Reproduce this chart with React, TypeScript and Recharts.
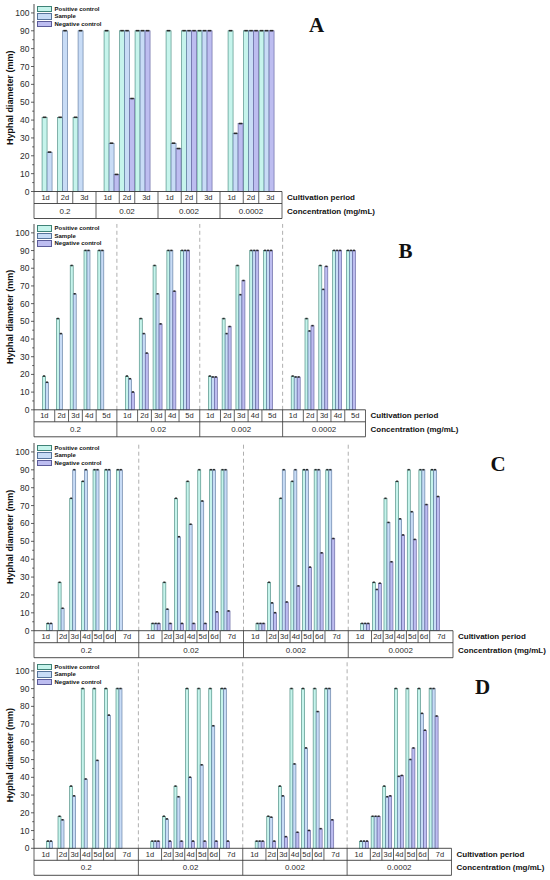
import React from "react";
import { Bar, BarChart, Legend, ReferenceLine, XAxis, YAxis } from "recharts";

const CONCENTRATIONS = ["0.2", "0.02", "0.002", "0.0002"];
const DAYS_3 = ["1d", "2d", "3d"];
const DAYS_5 = ["1d", "2d", "3d", "4d", "5d"];
const DAYS_7 = ["1d", "2d", "3d", "4d", "5d", "6d", "7d"];
const Y_TICKS = [0, 5, 10, 15, 20, 25, 30, 35, 40, 45, 50, 55, 60, 65, 70, 75, 80, 85, 90, 95, 100];

// values run concentration by concentration, day by day; null = no bar drawn
const A_POSITIVE = [41.5, 41.5, 41.5, 90, 90, 90, 90, 90, 90, 90, 90, 90];
const A_SAMPLE = [22, 90, 90, 27, 90, 90, 27, 90, 90, 32.5, 90, 90];
const A_NEGATIVE = [null, null, null, 9.5, 52, 90, 24, 90, 90, 38, 90, 90];

const B_POSITIVE = [19, 51.5, 81.5, 90, 90, 19, 51.5, 81.5, 90, 90, 19, 51.5, 81.5, 90, 90, 19, 51.5, 81.5, 90, 90];
const B_SAMPLE = [15.5, 43, 65.5, 90, 90, 17.5, 43, 65.5, 90, 90, 18.5, 43, 65, 90, 90, 18.5, 44.5, 68, 90, 90];
const B_NEGATIVE = [null, null, null, null, null, 10, 32, 48.5, 67, 90, 18.5, 47, 73, 90, 90, 18.5, 47.5, 81, 90, 90];

const C_POSITIVE = [4, 27, 74, 83.5, 90, 90, 90, 4, 27, 74, 83.5, 90, 90, 90, 4, 27, 74, 83.5, 90, 90, 90, 4, 27, 74, 83.5, 90, 90, 90];
const C_SAMPLE = [4, 12.5, 90, 90, 90, 90, 90, 4, 12, 52.5, 59.5, 72.5, 90, 90, 4, 15.5, 90, 90, 90, 90, 90, 4, 23, 60.5, 62.5, 66.5, 90, 90];
const C_NEGATIVE = [null, null, null, null, null, null, null, 4, 4, 4, 4, 4, 10.5, 11, 4, 10, 16, 25, 35.5, 43.5, 51.5, 4, 26.5, 38.5, 53.5, 51, 70.5, 75];

const D_POSITIVE = [4, 18, 35, 90, 90, 90, 90, 4, 18, 35, 90, 90, 90, 90, 4, 18, 35, 90, 90, 90, 90, 4, 18, 35, 90, 90, 90, 90];
const D_SAMPLE = [4, 16, 29.5, 39, 49.5, 75, 90, 4, 16.5, 29, 40, 47, 69, 90, 4, 17.5, 29.5, 47.5, 56.5, 77, 90, 4, 18, 29, 40.5, 50, 76, 90];
const D_NEGATIVE = [null, null, null, null, null, null, null, 4, 4, 4, 4, 4, 4, 4, 4, 4, 6.5, 9, 10, 11, 16, 4, 18, 29.5, 41, 56.5, 66.5, 74.5];

const SERIES = [
  { key: "positive", name: "Positive control", fill: "#c6f4ec", stroke: "#3f8277" },
  { key: "sample", name: "Sample", fill: "#c8dcf6", stroke: "#56739a" },
  { key: "negative", name: "Negative control", fill: "#bdbdf0", stroke: "#5b5b99" },
];

const FONT = "'Liberation Sans', Arial, sans-serif";
const INK = "#2b2b2b";
const PLOT_LEFT = 34;
const MARGIN_TOP = 4;
const MARGIN_BOTTOM = 3;
const ROW1 = 12;
const ROW2 = 15;
const AXIS = { stroke: "#3a3a3a", strokeWidth: 0.9 };

interface Row {
  key: string;
  kind: "day" | "spacer";
  group: number;
  day: number;
  label: string;
  positive: number | null;
  sample: number | null;
  negative: number | null;
}

interface PanelConfig {
  letter: string;
  days: string[];
  positive: (number | null)[];
  sample: (number | null)[];
  negative: (number | null)[];
  plotTop: number;
  plotBottom: number;
  plotRight: number;
  edge: number; // spacer width (in bands) at each side of a concentration group
  dashed: boolean;
  gap: string;
  letterX: number;
  letterBase: number;
}

const PANELS: PanelConfig[] = [
  { letter: "A", days: DAYS_3, positive: A_POSITIVE, sample: A_SAMPLE, negative: A_NEGATIVE, plotTop: 4, plotBottom: 191.5, plotRight: 282, edge: 0.5, dashed: false, gap: "2%", letterX: 316.5, letterBase: 33 },
  { letter: "B", days: DAYS_5, positive: B_POSITIVE, sample: B_SAMPLE, negative: B_NEGATIVE, plotTop: 223.5, plotBottom: 409.3, plotRight: 365.5, edge: 0.5, dashed: true, gap: "12%", letterX: 405.5, letterBase: 259 },
  { letter: "C", days: DAYS_7, positive: C_POSITIVE, sample: C_SAMPLE, negative: C_NEGATIVE, plotTop: 443, plotBottom: 630.7, plotRight: 453, edge: 1, dashed: true, gap: "7%", letterX: 498, letterBase: 471.5 },
  { letter: "D", days: DAYS_7, positive: D_POSITIVE, sample: D_SAMPLE, negative: D_NEGATIVE, plotTop: 662, plotBottom: 848.3, plotRight: 451.5, edge: 1, dashed: true, gap: "7%", letterX: 482.5, letterBase: 695 },
];

function spacer(key: string, group: number): Row {
  return { key, kind: "spacer", group, day: -1, label: "", positive: null, sample: null, negative: null };
}

function buildRows(cfg: PanelConfig): Row[] {
  const rows: Row[] = [];
  CONCENTRATIONS.forEach((conc, g) => {
    if (cfg.edge === 1) rows.push(spacer(`s${g}a`, g));
    else if (g > 0) rows.push(spacer(`s${g}`, g));
    cfg.days.forEach((d, j) => {
      const i = g * cfg.days.length + j;
      rows.push({
        key: `${conc}-${d}`,
        kind: "day",
        group: g,
        day: j,
        label: d,
        positive: cfg.positive[i],
        sample: cfg.sample[i],
        negative: cfg.negative[i],
      });
    });
    if (cfg.edge === 1) rows.push(spacer(`s${g}b`, g));
  });
  return rows;
}

function CappedBar(props: any) {
  const { x, y, width, height, fill, stroke } = props;
  if (!height || height <= 0 || !width) return <g />;
  const capW = width * 0.7;
  return (
    <g>
      <rect x={x} y={y} width={width} height={height} fill={fill} stroke={stroke} strokeWidth={0.6} />
      <rect x={x + (width - capW) / 2} y={y - 0.9} width={capW} height={1.6} fill={INK} />
    </g>
  );
}

function YTick(props: any) {
  const { x, y, payload } = props;
  const major = payload.value % 10 === 0;
  return (
    <g>
      <line x1={x - (major ? 3 : 1.8)} x2={x} y1={y} y2={y} stroke="#3a3a3a" strokeWidth={0.8} />
      {major && (
        <text x={x - 4.5} y={y} textAnchor="end" dominantBaseline="central" fontSize={8.5} fill={INK} fontFamily={FONT}>
          {payload.value}
        </text>
      )}
    </g>
  );
}

function LegendBox() {
  return (
    <div style={{ display: "flex", flexDirection: "column", gap: 1.2, fontFamily: FONT }}>
      {SERIES.map((s) => (
        <div key={s.key} style={{ display: "flex", alignItems: "center", height: 6.5 }}>
          <span
            style={{
              display: "inline-block",
              width: 15,
              height: 6.5,
              background: s.fill,
              border: `0.8px solid ${s.stroke}`,
              boxSizing: "border-box",
              marginRight: 3,
            }}
          />
          <span style={{ fontSize: 6, fontWeight: 700, lineHeight: "6.5px", whiteSpace: "nowrap", color: "#111" }}>{s.name}</span>
        </div>
      ))}
    </div>
  );
}

function sideLabel(text: string) {
  return (props: any) => {
    const vb = props.viewBox;
    if (!vb) return null;
    return (
      <text
        x={vb.x + vb.width + 5}
        y={vb.y + vb.height / 2}
        dominantBaseline="central"
        fontSize={8}
        fontWeight={700}
        fill="#111"
        fontFamily={FONT}
      >
        {text}
      </text>
    );
  };
}

function Panel({ cfg }: { cfg: PanelConfig }) {
  const rows = buildRows(cfg);
  const rowMap = new Map(rows.map((r) => [r.key, r]));
  const nDays = cfg.days.length;
  const mid = Math.floor(nDays / 2);
  const plotW = cfg.plotRight - PLOT_LEFT;
  const band = cfg.edge === 1 ? plotW / rows.length : plotW / (rows.length + 1);
  const pad = cfg.edge === 1 ? 0 : band / 2;
  const chartTop = cfg.plotTop - MARGIN_TOP;
  const height = cfg.plotBottom - cfg.plotTop + MARGIN_TOP + ROW1 + ROW2 + 1 + MARGIN_BOTTOM;

  const dayTick = (props: any) => {
    const { x, y, payload } = props;
    const row = rowMap.get(payload.value);
    if (!row || row.kind !== "day") return <g />;
    const h = payload.offset || band / 2;
    const first = row.day === 0;
    const last = row.day === nDays - 1;
    const cx = first ? x - cfg.edge * h : last ? x + cfg.edge * h : x;
    const line = { stroke: "#3a3a3a", strokeWidth: 0.8 };
    return (
      <g>
        {!last && <line x1={x + h} x2={x + h} y1={y} y2={y + ROW1} {...line} />}
        {first && row.group === 0 && (
          <line x1={x - h - cfg.edge * 2 * h} x2={x - h - cfg.edge * 2 * h} y1={y} y2={y + ROW1 + ROW2} {...line} />
        )}
        {last && <line x1={x + h + cfg.edge * 2 * h} x2={x + h + cfg.edge * 2 * h} y1={y} y2={y + ROW1 + ROW2} {...line} />}
        <text x={cx} y={y + ROW1 / 2} textAnchor="middle" dominantBaseline="central" fontSize={7.5} fill={INK} fontFamily={FONT}>
          {row.label}
        </text>
      </g>
    );
  };

  const concTick = (props: any) => {
    const { x, y, payload } = props;
    const row = rowMap.get(payload.value);
    if (!row || row.kind !== "day" || row.day !== mid) return <g />;
    return (
      <text x={x} y={y + ROW2 / 2} textAnchor="middle" dominantBaseline="central" fontSize={8} fill={INK} fontFamily={FONT}>
        {CONCENTRATIONS[row.group]}
      </text>
    );
  };

  const separators = cfg.dashed
    ? CONCENTRATIONS.slice(1).map((_, i) => {
        const g = i + 1;
        const key = cfg.edge === 1 ? `s${g - 1}b` : `s${g}`;
        return (
          <ReferenceLine
            key={key}
            xAxisId="row1"
            yAxisId="left"
            x={key}
            position={cfg.edge === 1 ? "end" : "middle"}
            stroke="#9a9a9a"
            strokeWidth={0.8}
            strokeDasharray="4 3"
          />
        );
      })
    : null;

  const common = {
    dataKey: "key",
    type: "category" as const,
    interval: 0,
    padding: { left: pad, right: pad },
    tickLine: false,
    tickSize: 0,
    tickMargin: 0,
    axisLine: AXIS,
  };

  return (
    <div style={{ position: "absolute", left: 0, top: chartTop, width: 550, height }}>
      <BarChart
        width={550}
        height={height}
        data={rows}
        margin={{ top: MARGIN_TOP, right: 550 - cfg.plotRight, bottom: MARGIN_BOTTOM, left: 0 }}
        barGap={0}
        barCategoryGap={cfg.gap}
      >
        <XAxis xAxisId="row1" {...common} height={ROW1} tick={dayTick} label={{ content: sideLabel("Cultivation period") }} />
        <XAxis xAxisId="row2" {...common} height={ROW2} tick={concTick} label={{ content: sideLabel("Concentration (mg/mL)") }} />
        <XAxis xAxisId="row3" {...common} height={1} tick={false} />
        <XAxis xAxisId="top" {...common} orientation="top" height={0} tick={false} />
        <YAxis
          yAxisId="left"
          domain={[0, 105]}
          ticks={Y_TICKS}
          interval={0}
          width={PLOT_LEFT}
          tickLine={false}
          tickSize={0}
          tickMargin={0}
          axisLine={AXIS}
          tick={YTick}
          label={{
            content: (props: any) => {
              const vb = props.viewBox;
              if (!vb) return null;
              const cx = vb.x + 10;
              const cy = vb.y + vb.height / 2;
              return (
                <text
                  x={cx}
                  y={cy}
                  transform={`rotate(-90 ${cx} ${cy})`}
                  textAnchor="middle"
                  dominantBaseline="central"
                  fontSize={9}
                  fontWeight={700}
                  fill="#111"
                  fontFamily={FONT}
                >
                  Hyphal diameter (mm)
                </text>
              );
            },
          }}
        />
        <YAxis yAxisId="right" orientation="right" width={0} tick={false} tickLine={false} axisLine={AXIS} />
        <Legend
          layout="horizontal"
          verticalAlign="middle"
          align="center"
          content={() => <LegendBox />}
          wrapperStyle={{ left: PLOT_LEFT + 2.5, top: MARGIN_TOP + 1.5, width: "auto", height: "auto" }}
        />
        {separators}
        {SERIES.map((s) => (
          <Bar
            key={s.key}
            dataKey={s.key}
            name={s.name}
            xAxisId="row1"
            yAxisId="left"
            fill={s.fill}
            stroke={s.stroke}
            shape={CappedBar}
            isAnimationActive={false}
          />
        ))}
      </BarChart>
    </div>
  );
}

export default function App() {
  return (
    <div style={{ position: "absolute", left: 0, top: 0, width: 550, height: 880, background: "#fff", fontFamily: FONT }}>
      {PANELS.map((cfg) => (
        <Panel key={cfg.letter} cfg={cfg} />
      ))}
      {PANELS.map((cfg) => (
        <div
          key={`letter-${cfg.letter}`}
          style={{
            position: "absolute",
            left: cfg.letterX - 20,
            top: cfg.letterBase - 17.6,
            width: 40,
            textAlign: "center",
            fontFamily: "'Liberation Serif', 'Times New Roman', serif",
            fontWeight: 700,
            fontSize: 21,
            lineHeight: 1,
            color: "#111",
          }}
        >
          {cfg.letter}
        </div>
      ))}
    </div>
  );
}
